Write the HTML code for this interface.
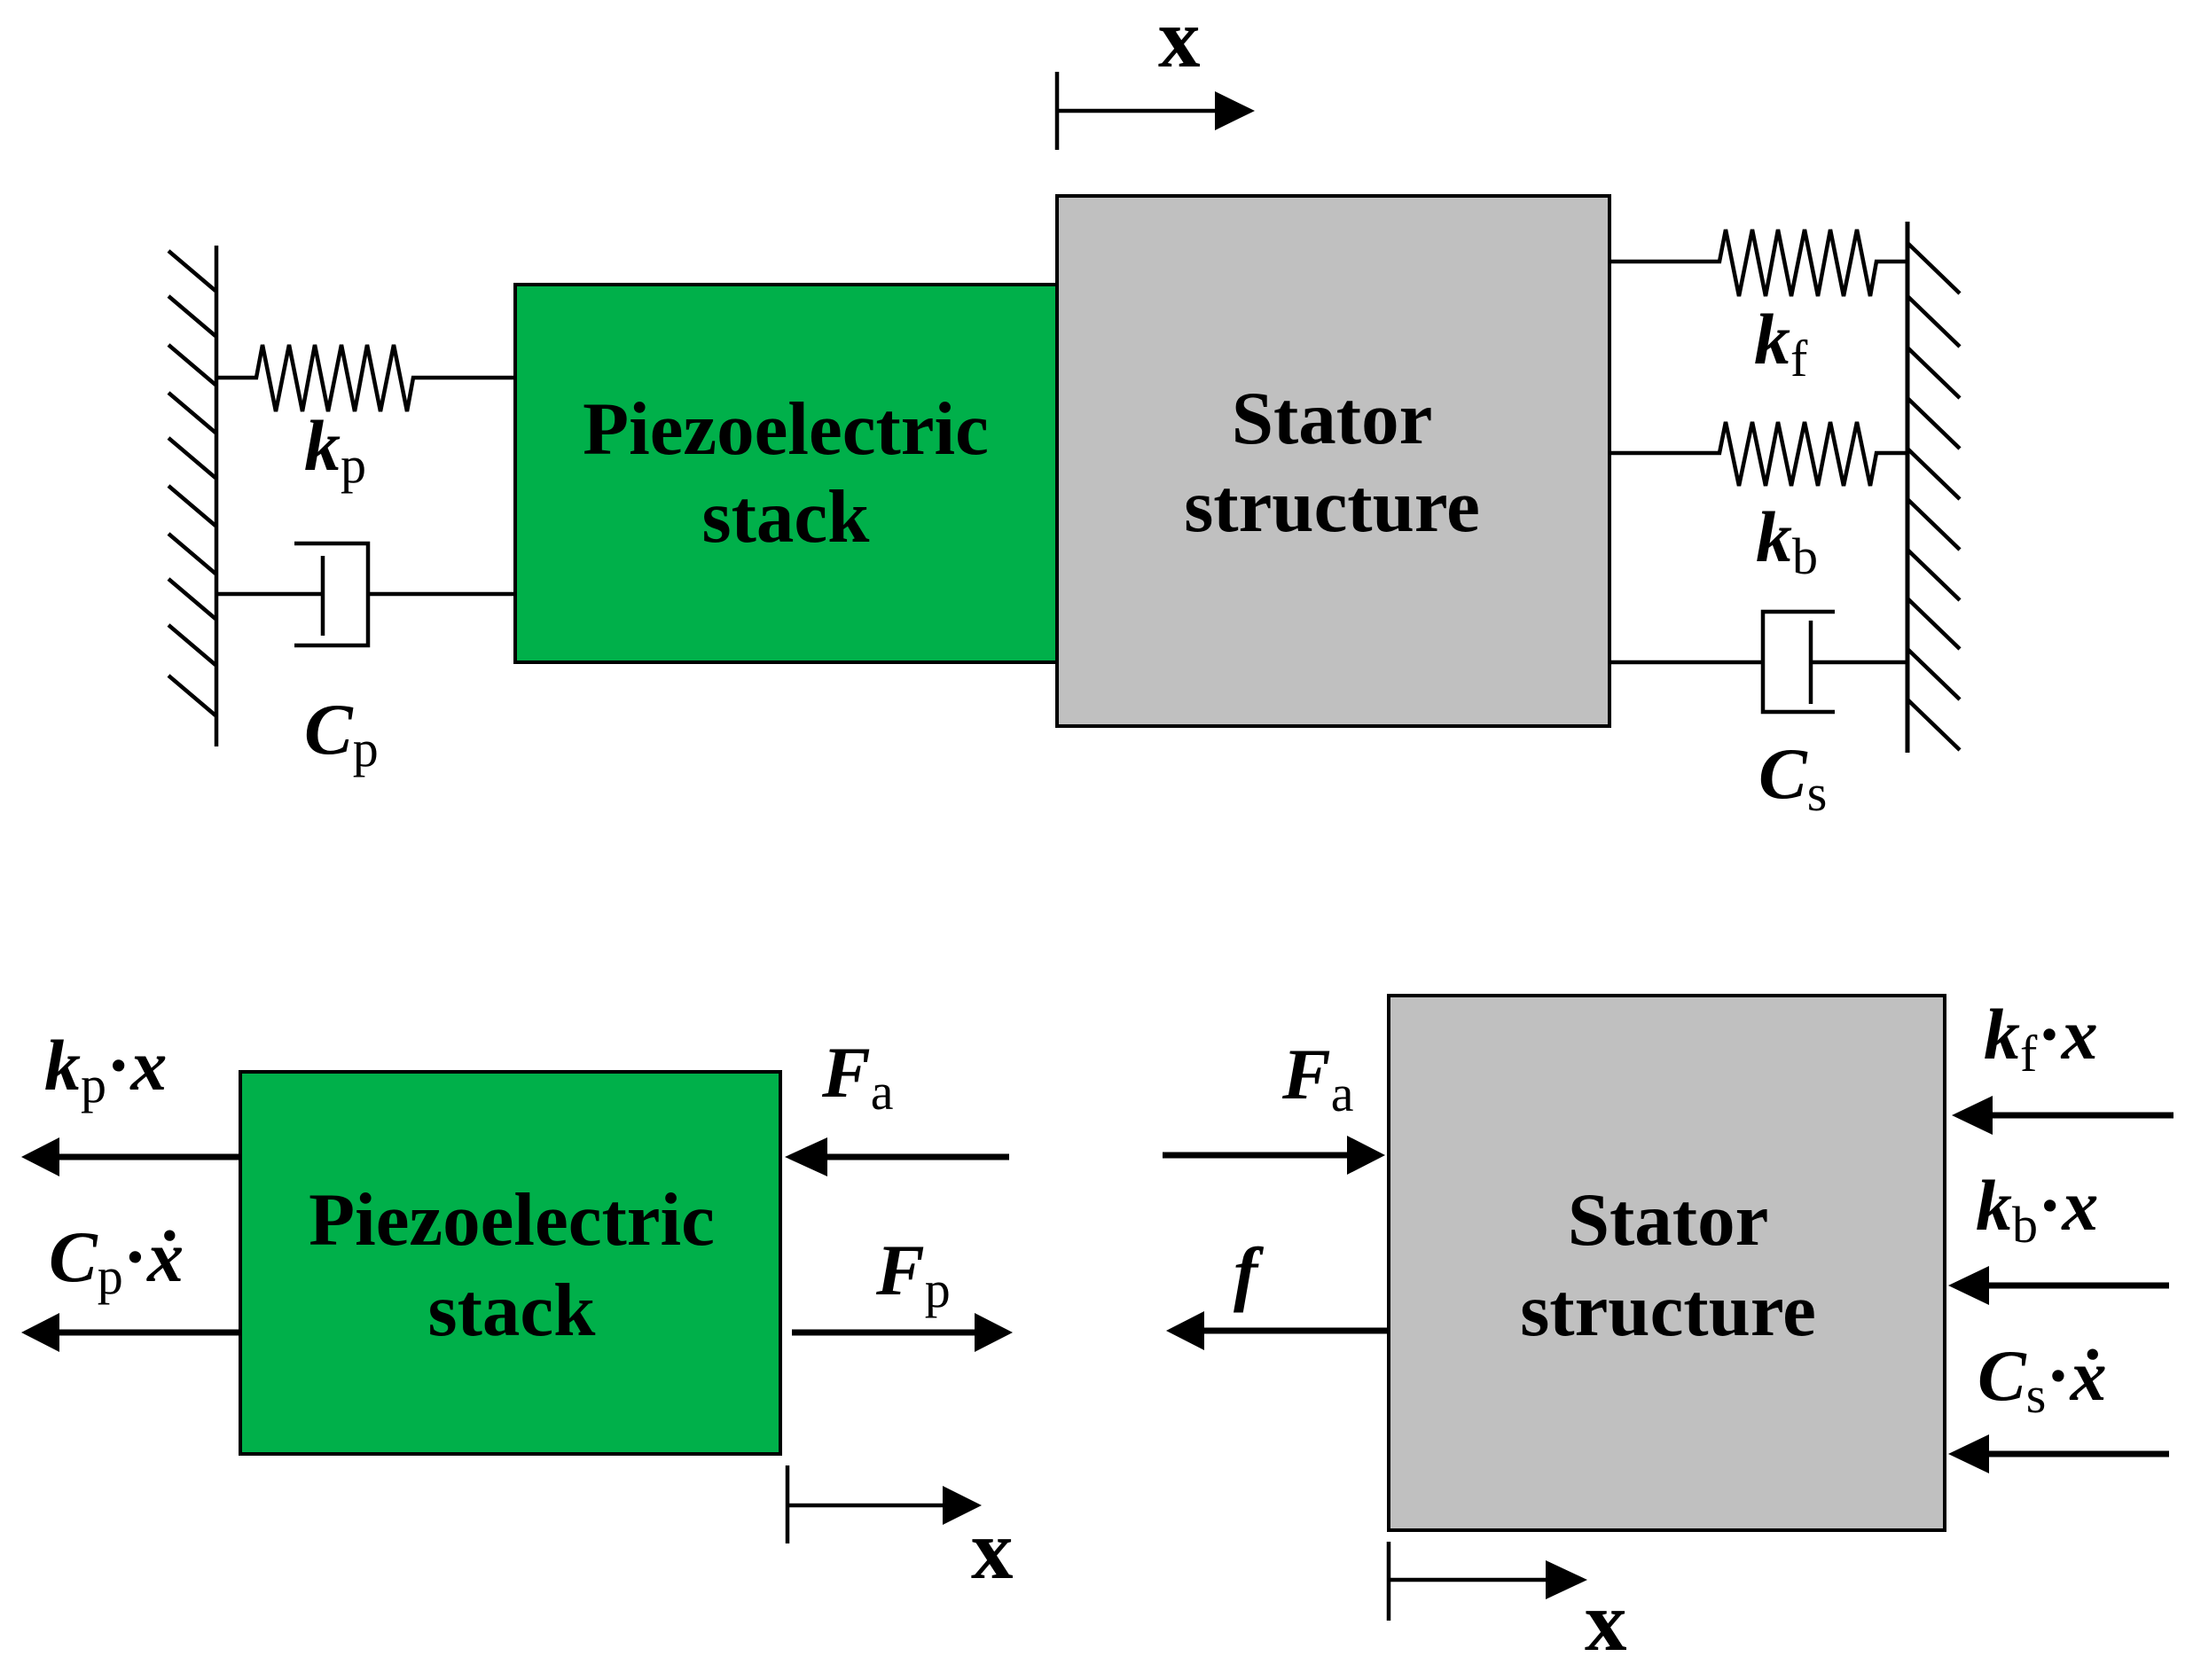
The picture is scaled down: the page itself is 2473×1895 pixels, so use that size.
<!DOCTYPE html>
<html><head><meta charset="utf-8"><style>
html,body{margin:0;padding:0;background:#fff}
svg{display:block}
text{font-family:"Liberation Serif",serif;font-weight:bold}
.i{font-style:italic}
.s{font-weight:normal}
</style></head><body>
<svg width="2473" height="1895" viewBox="0 0 2473 1895" xmlns="http://www.w3.org/2000/svg">
<g stroke="#000" stroke-width="4.5" fill="none">
<line x1="244" y1="277" x2="244" y2="842"/>
<path d="M190 283 L243 328 M190 334 L243 379 M190 389 L243 434 M190 443 L243 488 M190 494 L243 539 M190 548 L243 593 M190 602 L243 647 M190 653 L243 698 M190 705 L243 750 M190 762 L243 807"/>
<polyline points="244,426 289,426 296,389 311,464 326,389 341,464 355,389 370,464 385,389 400,464 414,389 429,464 444,389 459,464 466,426 581,426"/>
<line x1="244" y1="670" x2="364" y2="670"/>
<line x1="364" y1="627" x2="364" y2="717"/>
<polyline points="332,613 415,613 415,728 332,728"/>
<line x1="415" y1="670" x2="581" y2="670"/>
<polyline points="1815,295 1939,295 1946,259 1961,334 1976,259 1991,334 2005,259 2020,334 2035,259 2050,334 2064,259 2079,334 2094,259 2109,334 2116,295 2151,295"/>
<polyline points="1815,511 1939,511 1946,476 1961,548 1976,476 1991,548 2005,476 2020,548 2035,476 2050,548 2064,476 2079,548 2094,476 2109,548 2116,511 2151,511"/>
<line x1="1815" y1="747" x2="1988" y2="747"/>
<polyline points="2069,690 1988,690 1988,803 2069,803"/>
<line x1="2042" y1="700" x2="2042" y2="794"/>
<line x1="2042" y1="747" x2="2151" y2="747"/>
<line x1="2151" y1="250" x2="2151" y2="849" stroke-width="5"/>
<path d="M2151 274 L2210 331 M2151 334 L2210 391 M2151 392 L2210 449 M2151 449 L2210 506 M2151 506 L2210 563 M2151 563 L2210 620 M2151 620 L2210 677 M2151 675 L2210 732 M2151 732 L2210 789 M2151 789 L2210 846"/>
<line x1="1192" y1="81" x2="1192" y2="169"/>
<line x1="1192" y1="125" x2="1375" y2="125"/>
</g>
<polygon points="1370,103 1415,125 1370,147"/>
<rect x="581" y="321" width="611" height="426" fill="#00b04a" stroke="#000" stroke-width="4"/>
<rect x="1192" y="221" width="623" height="598" fill="#c0c0c0" stroke="#000" stroke-width="4"/>
<text x="886" y="512" font-size="85" text-anchor="middle">Piezoelectric</text>
<text x="886" y="611" font-size="85" text-anchor="middle">stack</text>
<text x="1502" y="500" font-size="85" text-anchor="middle">Stator</text>
<text x="1502" y="599" font-size="85" text-anchor="middle">structure</text>
<text x="1306" y="75" font-size="95">x</text>
<text x="343" y="530" font-size="82"><tspan class="i">k</tspan><tspan class="s" font-size="58" dy="14">p</tspan></text>
<text x="343" y="850" font-size="82"><tspan class="i">C</tspan><tspan class="s" font-size="58" dy="14">p</tspan></text>
<text x="1978" y="410" font-size="82"><tspan class="i">k</tspan><tspan class="s" font-size="58" dy="14">f</tspan></text>
<text x="1980" y="633" font-size="82"><tspan class="i">k</tspan><tspan class="s" font-size="58" dy="14">b</tspan></text>
<text x="1983" y="900" font-size="82"><tspan class="i">C</tspan><tspan class="s" font-size="58" dy="14">s</tspan></text>

<rect x="271" y="1209" width="609" height="431" fill="#00b04a" stroke="#000" stroke-width="4"/>
<text x="577" y="1404" font-size="85" text-anchor="middle">Piezoelectric</text>
<text x="577" y="1506" font-size="85" text-anchor="middle">stack</text>
<g stroke="#000" stroke-width="7">
<line x1="271" y1="1305" x2="60" y2="1305"/>
<line x1="271" y1="1503" x2="60" y2="1503"/>
<line x1="1138" y1="1305" x2="930" y2="1305"/>
<line x1="893" y1="1503" x2="1100" y2="1503"/>
<line x1="1311" y1="1303" x2="1522" y2="1303"/>
<line x1="1566" y1="1501" x2="1355" y2="1501"/>
<line x1="2451" y1="1258" x2="2244" y2="1258"/>
<line x1="2446" y1="1450" x2="2240" y2="1450"/>
<line x1="2446" y1="1640" x2="2240" y2="1640"/>
</g>
<g fill="#000">
<polygon points="24,1305 67,1283 67,1327"/>
<polygon points="24,1503 67,1481 67,1525"/>
<polygon points="885,1305 933,1283 933,1327"/>
<polygon points="1142,1503 1099,1481 1099,1525"/>
<polygon points="1562,1303 1519,1281 1519,1325"/>
<polygon points="1315,1501 1358,1479 1358,1523"/>
<polygon points="2201,1258 2247,1236 2247,1280"/>
<polygon points="2197,1450 2243,1428 2243,1472"/>
<polygon points="2197,1640 2243,1618 2243,1662"/>
<polygon points="1107,1698 1063,1676 1063,1720"/>
<polygon points="1790,1782 1743,1760 1743,1804"/>
</g>
<g stroke="#000" stroke-width="4.5">
<line x1="888" y1="1653" x2="888" y2="1741"/>
<line x1="888" y1="1698" x2="1070" y2="1698"/>
<line x1="1566" y1="1739" x2="1566" y2="1828"/>
<line x1="1566" y1="1782" x2="1750" y2="1782"/>
</g>
<text x="1095" y="1780" font-size="95">x</text>
<text x="1787" y="1861" font-size="95">x</text>
<text x="50" y="1229" font-size="82"><tspan class="i">k</tspan><tspan class="s" font-size="58" dy="14">p</tspan><tspan dy="-14">·</tspan><tspan class="i">x</tspan></text>
<text x="55" y="1445" font-size="82"><tspan class="i">C</tspan><tspan class="s" font-size="58" dy="14">p</tspan><tspan dy="-14">·</tspan><tspan class="i">ẋ</tspan></text>
<text x="927" y="1237" font-size="82"><tspan class="i">F</tspan><tspan class="s" font-size="58" dy="14">a</tspan></text>
<text x="988" y="1460" font-size="82"><tspan class="i">F</tspan><tspan class="s" font-size="58" dy="14">p</tspan></text>

<rect x="1566" y="1123" width="627" height="603" fill="#c0c0c0" stroke="#000" stroke-width="4"/>
<text x="1881" y="1404" font-size="85" text-anchor="middle">Stator</text>
<text x="1881" y="1506" font-size="85" text-anchor="middle">structure</text>
<text x="1446" y="1239" font-size="82"><tspan class="i">F</tspan><tspan class="s" font-size="58" dy="14">a</tspan></text>
<text x="1391" y="1463" font-size="82" class="i">f</text>
<text x="2237" y="1194" font-size="82"><tspan class="i">k</tspan><tspan class="s" font-size="58" dy="14">f</tspan><tspan dy="-14">·</tspan><tspan class="i">x</tspan></text>
<text x="2228" y="1387" font-size="82"><tspan class="i">k</tspan><tspan class="s" font-size="58" dy="14">b</tspan><tspan dy="-14">·</tspan><tspan class="i">x</tspan></text>
<text x="2230" y="1579" font-size="82"><tspan class="i">C</tspan><tspan class="s" font-size="58" dy="14">s</tspan><tspan dy="-14">·</tspan><tspan class="i">ẋ</tspan></text>
</svg>
</body></html>
